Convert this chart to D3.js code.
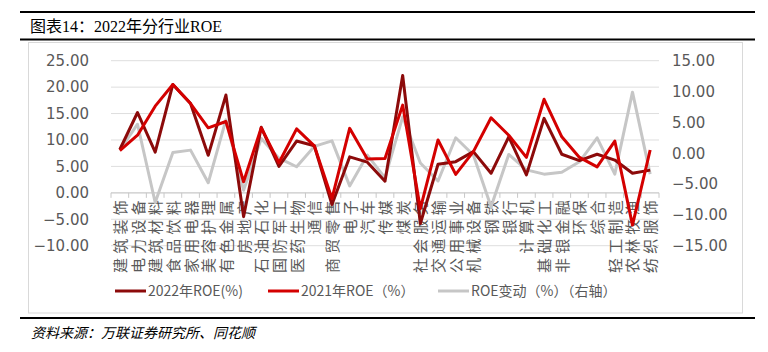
<!DOCTYPE html>
<html>
<head>
<meta charset="utf-8">
<script src="https://cdn.jsdelivr.net/npm/d3@7"></script>
<style>
  body { margin: 0; background: #fff; }
  svg { display: block; }
</style>
</head>
<body>
<svg id="chart"></svg>
<script>
(function() {

const industries = ["建筑装饰", "电力设备", "建筑材料", "食品饮料", "家用电器", "美容护理", "有色金属",
  "房地产", "石油石化", "国防军工", "医药生物", "通信", "商贸零售", "电子", "汽车", "传媒", "煤炭",
  "社会服务", "交通运输", "公用事业", "机械设备", "钢铁", "银行", "计算机", "基础化工", "非银金融",
  "环保", "综合", "轻工制造", "农林牧渔", "纺织服饰"];

const roe2022 = [8.2, 15.2, 7.7, 20.5, 16.9, 7.1, 18.5, -4.5, 12.4, 5.0, 9.8, 8.9, -2.2, 6.8, 5.8, 2.2,
  22.2, -5.8, 5.4, 5.9, 7.8, 3.7, 10.6, 3.4, 14.1, 7.3, 6.1, 7.3, 6.2, 3.7, 4.3];

const roe2021 = [8.0, 10.9, 16.4, 20.5, 16.9, 12.3, 13.5, 2.1, 12.3, 5.7, 12.1, 8.9, -1.1, 12.2, 6.4, 6.5,
  16.6, -3.0, 10.0, 3.5, 7.8, 14.2, 10.9, 6.7, 17.7, 10.6, 6.7, 4.9, 9.8, -6.1, 8.1];

const roeChange = [0.5, 4.7, -8.0, 0.1, 0.5, -4.8, 5.4, -6.0, 2.4, -0.8, -2.2, 1.1, 2.0, -5.3, -0.3, -4.0,
  5.9, -1.6, -4.5, 2.5, -0.3, -8.7, -0.2, -2.7, -3.4, -3.1, -1.4, 2.5, -3.4, 9.9, -3.4];

const leftTicks = [-10, -5, 0, 5, 10, 15, 20, 25];
const rightTicks = [-15, -10, -5, 0, 5, 10, 15];

const seriesNames = ["2022年ROE(%)", "2021年ROE（%）", "ROE变动（%）（右轴）"];

const colorDark = "#8c0a0a";
const colorRed = "#d40000";
const colorGray = "#c6c6c6";
const textGray = "#595959";

const W = 768, H = 352;
const plot = { left: 111, right: 659, top: 60.7, bottom: 245.7 };

const svg = d3.select("#chart")
    .attr("width", W)
    .attr("height", H);

// page frame: rules, title, source
svg.append("line").attr("x1", 20).attr("x2", 755).attr("y1", 12).attr("y2", 12)
    .attr("stroke", "#000").attr("stroke-width", 2);
svg.append("text")
    .attr("x", 30).attr("y", 32)
    .attr("font-family", "'Liberation Serif', 'Noto Sans CJK SC', serif")
    .attr("font-size", 16)
    .attr("fill", "#000")
    .text("图表14：2022年分行业ROE");
svg.append("line").attr("x1", 20).attr("x2", 755).attr("y1", 39.5).attr("y2", 39.5)
    .attr("stroke", "#000").attr("stroke-width", 2);
svg.append("rect")
    .attr("x", 28.5).attr("y", 42.5).attr("width", 714).attr("height", 270.5)
    .attr("fill", "none").attr("stroke", "#d9d9d9");
svg.append("line").attr("x1", 20).attr("x2", 755).attr("y1", 318).attr("y2", 318)
    .attr("stroke", "#000").attr("stroke-width", 2);
svg.append("text")
    .attr("x", 31).attr("y", 338)
    .attr("font-family", "'Noto Sans CJK SC', sans-serif")
    .attr("font-size", 14)
    .attr("font-style", "italic")
    .attr("fill", "#000")
    .text("资料来源：万联证券研究所、同花顺");

// scales
const x = d3.scaleBand()
    .domain(industries)
    .range([plot.left, plot.right])
    .padding(0);

const yL = d3.scaleLinear()
    .domain([-10, 25])
    .range([plot.bottom, plot.top]);

const yR = d3.scaleLinear()
    .domain([-15, 15])
    .range([plot.bottom, plot.top]);

const cx = d => x(d) + x.bandwidth() / 2;
const fmt = d3.format(".2f");

// gridlines
svg.append("g")
    .selectAll("line")
    .data(leftTicks.filter(t => t !== 0))
    .join("line")
    .attr("x1", plot.left).attr("x2", plot.right)
    .attr("y1", d => yL(d)).attr("y2", d => yL(d))
    .attr("stroke", "#dedede")
    .attr("stroke-width", 1);

// left axis labels
const leftAxis = svg.append("g")
    .attr("transform", `translate(${plot.left - 22},0)`)
    .call(d3.axisLeft(yL).tickValues(leftTicks).tickFormat(fmt).tickSize(0).tickPadding(0));
leftAxis.select(".domain").remove();
leftAxis.selectAll("text")
    .attr("font-family", "'DejaVu Sans', sans-serif")
    .attr("font-size", 15)
    .attr("fill", textGray);

// right axis labels
const rightAxis = svg.append("g")
    .attr("transform", `translate(${plot.right + 13},0)`)
    .call(d3.axisRight(yR).tickValues(rightTicks).tickFormat(fmt).tickSize(0).tickPadding(0));
rightAxis.select(".domain").remove();
rightAxis.selectAll("text")
    .attr("font-family", "'DejaVu Sans', sans-serif")
    .attr("font-size", 15)
    .attr("fill", textGray);

// category axis at zero
const y0 = yL(0);
svg.append("line")
    .attr("x1", plot.left).attr("x2", plot.right)
    .attr("y1", y0).attr("y2", y0)
    .attr("stroke", "#c8c8c8").attr("stroke-width", 1.2);
const bounds = industries.map(d => x(d)).concat([plot.right]);
svg.append("g")
    .selectAll("line")
    .data(bounds)
    .join("line")
    .attr("x1", d => d).attr("x2", d => d)
    .attr("y1", y0).attr("y2", y0 + 5)
    .attr("stroke", "#c8c8c8");

svg.append("g")
    .selectAll("text")
    .data(industries)
    .join("text")
    .attr("transform", d => `translate(${cx(d) + 6},${y0 + 3}) rotate(-90)`)
    .attr("text-anchor", "end")
    .attr("font-family", "'Noto Sans CJK SC', sans-serif")
    .attr("font-size", 15)
    .attr("letter-spacing", 4.3)
    .attr("fill", textGray)
    .text(d => d);

// lines
const lineL = d3.line()
    .x((d, i) => cx(industries[i]))
    .y(d => yL(d));
const lineR = d3.line()
    .x((d, i) => cx(industries[i]))
    .y(d => yR(d));

svg.append("path")
    .datum(roeChange)
    .attr("fill", "none")
    .attr("stroke", colorGray)
    .attr("stroke-width", 3)
    .attr("stroke-linejoin", "round")
    .attr("d", lineR);

svg.append("path")
    .datum(roe2022)
    .attr("fill", "none")
    .attr("stroke", colorDark)
    .attr("stroke-width", 3)
    .attr("stroke-linejoin", "round")
    .attr("d", lineL);

svg.append("path")
    .datum(roe2021)
    .attr("fill", "none")
    .attr("stroke", colorRed)
    .attr("stroke-width", 3)
    .attr("stroke-linejoin", "round")
    .attr("d", lineL);

// legend
const legendItems = [
  { name: seriesNames[0], color: colorDark, x: 115 },
  { name: seriesNames[1], color: colorRed, x: 268 },
  { name: seriesNames[2], color: colorGray, x: 438 },
];
const legend = svg.append("g");
const li = legend.selectAll("g")
    .data(legendItems)
    .join("g")
    .attr("transform", d => `translate(${d.x},291)`);
li.append("line")
    .attr("x1", 0).attr("x2", 31)
    .attr("stroke", d => d.color)
    .attr("stroke-width", 3);
li.append("text")
    .attr("x", 33)
    .attr("dy", "0.35em")
    .attr("font-family", "'Noto Sans CJK SC', sans-serif")
    .attr("font-size", 14)
    .attr("fill", textGray)
    .text(d => d.name);

})();
</script>
</body>
</html>
